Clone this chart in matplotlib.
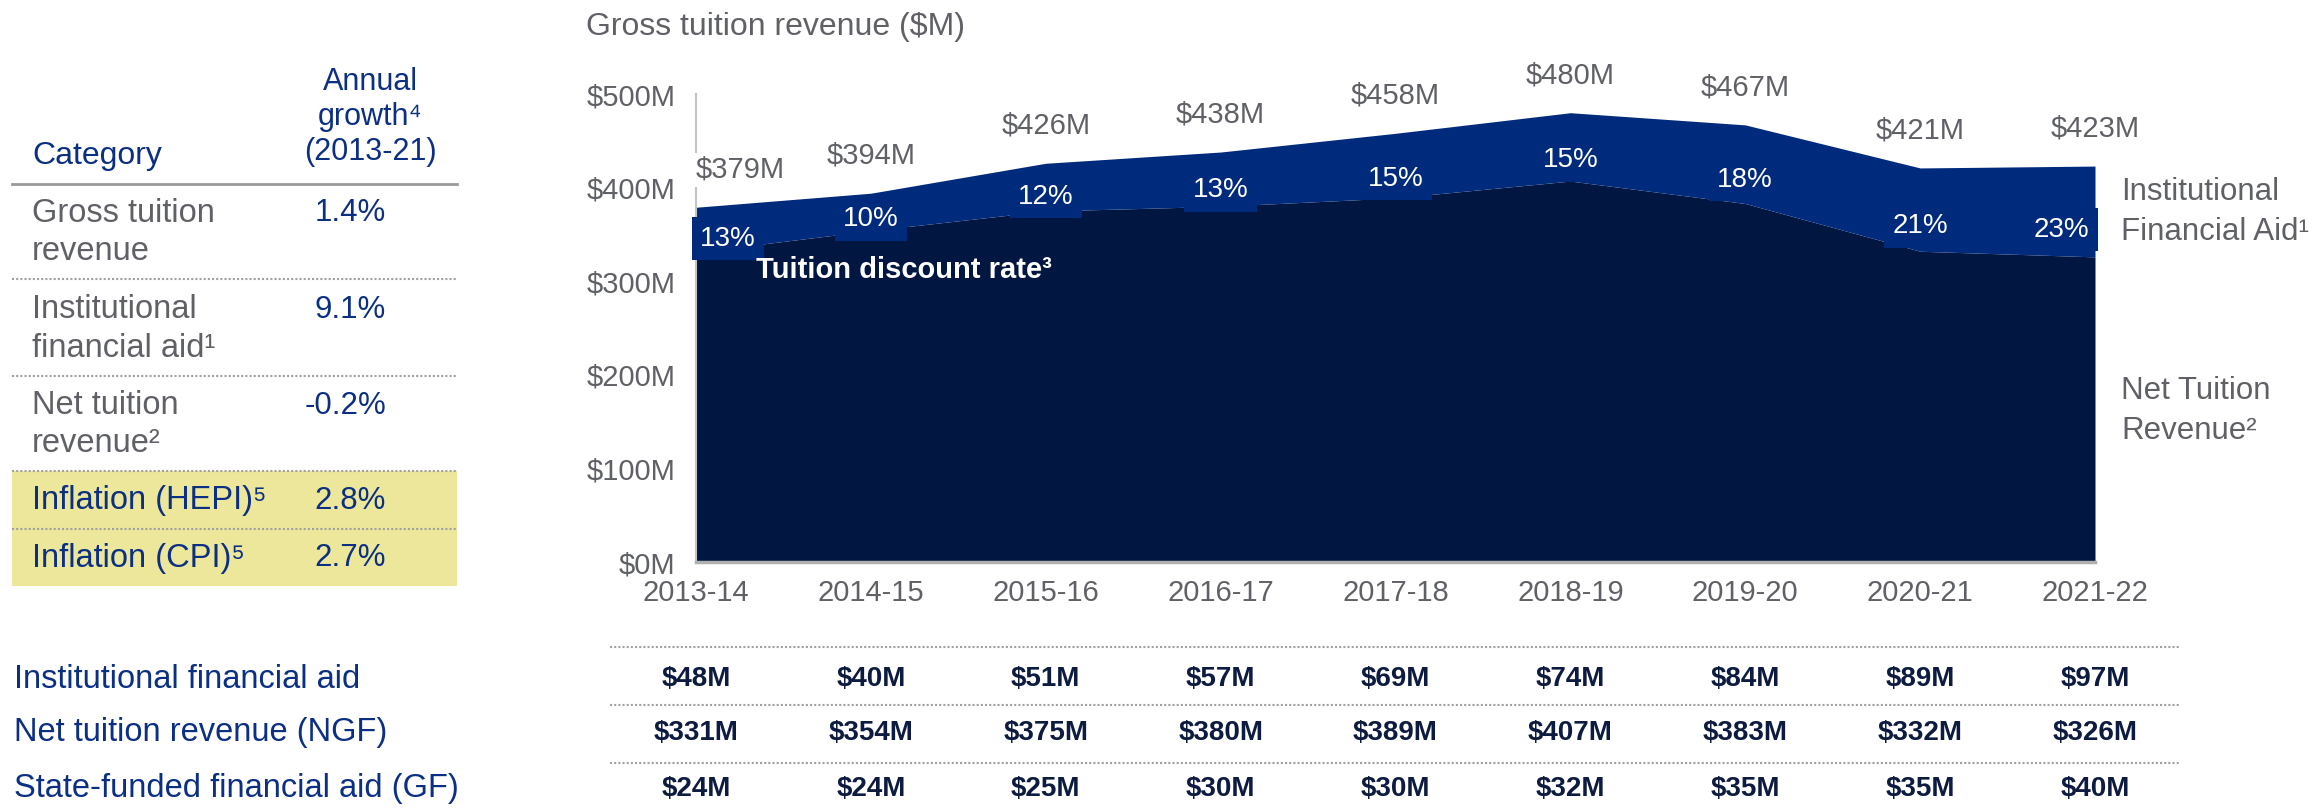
import matplotlib
matplotlib.use("Agg")
import matplotlib.pyplot as plt

plt.rcParams['font.family'] = ['Liberation Sans', 'DejaVu Sans']

# chart data
years = ['2013-14', '2014-15', '2015-16', '2016-17', '2017-18',
         '2018-19', '2019-20', '2020-21', '2021-22']
gross = [379, 394, 426, 438, 458, 480, 467, 421, 423]
aid = [48, 40, 51, 57, 69, 74, 84, 89, 97]
net = [331, 354, 375, 380, 389, 407, 383, 332, 326]
state_aid = [24, 24, 25, 30, 30, 32, 35, 35, 40]
discount = [13, 10, 12, 13, 15, 15, 18, 21, 23]

# left table
categories = ['Gross tuition\nrevenue', 'Institutional\nfinancial aid¹',
              'Net tuition\nrevenue²', 'Inflation (HEPI)⁵', 'Inflation (CPI)⁵']
growth = ['1.4%', '9.1%', '-0.2%', '2.8%', '2.7%']

# bottom table
row_names = ['Institutional financial aid', 'Net tuition revenue (NGF)',
             'State-funded financial aid (GF)']
row_values = [aid, net, state_aid]

NAVY = '#011641'
BLUE = '#002a7b'
TXT_BLUE = '#0b2f82'
GRAY = '#5f6166'
VAL = '#0c1b3f'
YELLOW = '#ece79a'
W, H = 2313, 809


def fx(x):
    return x / W


def fy(y):
    return 1 - y / H


fig = plt.figure(figsize=(W / 100, H / 100), dpi=100)

# ---- area chart
ax = fig.add_axes([fx(696), fy(562), (2095 - 696) / W, (562 - 94) / H])
xs = list(range(len(years)))
ax.fill_between(xs, 0, net, color=NAVY, lw=0)
ax.fill_between(xs, net, gross, color=BLUE, lw=0)
ax.set_xlim(0, len(years) - 1)
ax.set_ylim(0, 500)
ax.set_yticks(range(0, 501, 100))
ax.set_yticklabels(['$%dM' % v for v in range(0, 501, 100)])
ax.set_xticks(xs)
ax.set_xticklabels(years)
ax.tick_params(axis='both', length=0, labelsize=21, labelcolor=GRAY)
ax.tick_params(axis='y', pad=15)
ax.tick_params(axis='x', pad=12)
for s in ['top', 'right']:
    ax.spines[s].set_visible(False)
ax.spines['left'].set_color('#c4c4c4')
ax.spines['left'].set_linewidth(1.5)
ax.spines['bottom'].set_color('#b0b0b0')
ax.spines['bottom'].set_linewidth(2.5)

for i, g in enumerate(gross):
    ha = 'left' if i == 0 else 'center'
    ax.annotate('$%dM' % g, (i, g), xytext=(0, 27), textcoords='offset points',
                ha=ha, va='center', fontsize=21, color=GRAY, clip_on=False,
                bbox=dict(facecolor='white', edgecolor='none', pad=2))

last = len(discount) - 1
for i, d in enumerate(discount):
    if i == 0:
        ha, dx = 'left', 3
    elif i == last:
        ha, dx = 'right', -4
    else:
        ha, dx = 'center', 0
    ax.annotate('%d%%' % d, (i, net[i] + 0.3 * aid[i]), xytext=(dx, 0),
                textcoords='offset points', ha=ha, va='center', fontsize=20,
                color='white',
                bbox=dict(facecolor=BLUE, edgecolor='none', boxstyle='square,pad=0.3'))

fig.text(fx(756), fy(270), 'Tuition discount rate³', fontsize=21, color='white',
         fontweight='bold', va='center', ha='left')

fig.text(fx(586), fy(27), 'Gross tuition revenue ($M)', fontsize=23, color=GRAY,
         va='center', ha='left')
fig.text(fx(2121), fy(212), 'Institutional\nFinancial Aid¹', fontsize=22.5, color=GRAY,
         va='center', ha='left', linespacing=1.45)
fig.text(fx(2121), fy(411), 'Net Tuition\nRevenue²', fontsize=22.5, color=GRAY,
         va='center', ha='left', linespacing=1.45)

# ---- left table
fig.text(fx(32), fy(156), 'Category', fontsize=23, color=TXT_BLUE, va='center')
fig.text(fx(370), fy(117), 'Annual\ngrowth⁴\n(2013-21)', fontsize=22, color=TXT_BLUE,
         va='center', ha='center', linespacing=1.2)
fig.add_artist(plt.Line2D([fx(12), fx(457)], [fy(184), fy(184)], color='#9a9a9a', lw=2))
fig.add_artist(plt.Rectangle((fx(12), fy(586)), fx(457) - fx(12), fy(471) - fy(586),
                             facecolor=YELLOW, edgecolor='none'))

row_y = [213, 310, 406, 501, 558]
line_y = [279, 376, 471, 529]
for i, (c, g) in enumerate(zip(categories, growth)):
    col = GRAY if i < 3 else TXT_BLUE
    for k, ln in enumerate(c.split('\n')):
        fig.text(fx(32), fy(row_y[i] + 38 * k), ln, fontsize=23.5, color=col, va='center')
    fig.text(fx(386), fy(row_y[i]), g, fontsize=22.5, color=TXT_BLUE, va='center', ha='right')
for y in line_y:
    fig.add_artist(plt.Line2D([fx(12), fx(457)], [fy(y), fy(y)], color='#a0a0a0', lw=1.5,
                              ls=(0, (1, 1))))

# ---- bottom table
for y in [647, 705, 763]:
    fig.add_artist(plt.Line2D([fx(610), fx(2180)], [fy(y), fy(y)], color='#a0a0a0', lw=1.5,
                              ls=(0, (1, 1))))
bottom_y = [679, 733, 789]
for r, (name, vals) in enumerate(zip(row_names, row_values)):
    fig.text(fx(14), fy(bottom_y[r]), name, fontsize=23.5, color=TXT_BLUE, va='center')
    for i, v in enumerate(vals):
        fig.text(fx(696 + i * (2095 - 696) / 8), fy(bottom_y[r]), '$%dM' % v, fontsize=20,
                 color=VAL, va='center', ha='center', fontweight='bold')

fig.savefig('out.png', dpi=100)
